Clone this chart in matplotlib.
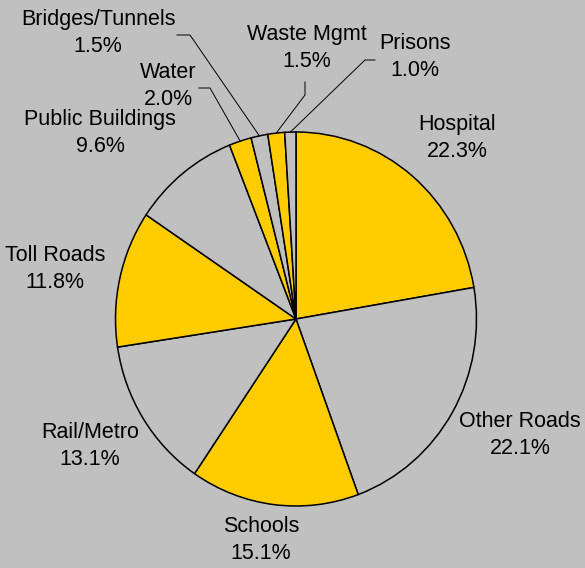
import numpy as np
from matplotlib import pyplot as plt

# data
sectors = ["Hospital", "Other Roads", "Schools", "Rail/Metro", "Toll Roads",
           "Public Buildings", "Water", "Bridges/Tunnels", "Waste Mgmt", "Prisons"]
shares = [22.3, 22.1, 15.1, 13.1, 11.8, 9.6, 2.0, 1.5, 1.5, 1.0]

YELLOW = "#FFCC00"
GREY = "#C0C0C0"
colors = [YELLOW if i % 2 == 0 else GREY for i in range(len(sectors))]

# layout (pixels of the 585x568 picture)
W, H = 585, 568
CX, CY = 296, 319          # pie centre
RX, RY = 180.5, 187        # pie radii (slightly taller than wide)

label_pos = {
    "Hospital": (457, 138),
    "Other Roads": (520, 435),
    "Schools": (261, 540),
    "Rail/Metro": (90, 446),
    "Toll Roads": (55, 269),
    "Public Buildings": (100, 133),
    "Water": (168, 86),
    "Bridges/Tunnels": (98, 33),
    "Waste Mgmt": (307, 48),
    "Prisons": (415, 57),
}
# leader lines: (elbow, end near label)
leaders = {
    "Water": ((210, 88), (199, 88)),
    "Bridges/Tunnels": ((190, 35), (177, 35)),
    "Waste Mgmt": ((305, 95), (305, 82)),
    "Prisons": ((365, 60), (375, 60)),
}


def px(x, y):
    """pixel coords (from top-left) -> pie data coords"""
    return (x - CX) / RX, (CY - y) / RY


fig = plt.figure(figsize=(W / 100, H / 100), dpi=100)
fig.patch.set_facecolor(GREY)
ax = fig.add_axes([0, 0, 1, 1])
ax.set_facecolor(GREY)

wedges, _ = ax.pie(shares, colors=colors, startangle=90, counterclock=False,
                   radius=1.0, center=(0, 0),
                   wedgeprops=dict(edgecolor="black", linewidth=1.1))
ax.set_aspect("auto")
ax.set_xlim(px(0, 0)[0], px(W, 0)[0])
ax.set_ylim(px(0, H)[1], px(0, 0)[1])
ax.axis("off")

for w, name, val in zip(wedges, sectors, shares):
    tx, ty = px(*label_pos[name])
    ax.text(tx, ty, f"{name}\n{val:.1f}%", ha="center", va="center",
            fontsize=15.5, family="Liberation Sans", linespacing=1.42)
    if name in leaders:
        mid = np.deg2rad((w.theta1 + w.theta2) / 2)
        ex, ey = px(*leaders[name][0])
        lx, ly = px(*leaders[name][1])
        ax.plot([np.cos(mid), ex, lx], [np.sin(mid), ey, ly],
                color="black", linewidth=0.7)

fig.savefig("out.png", dpi=100, facecolor=GREY)
